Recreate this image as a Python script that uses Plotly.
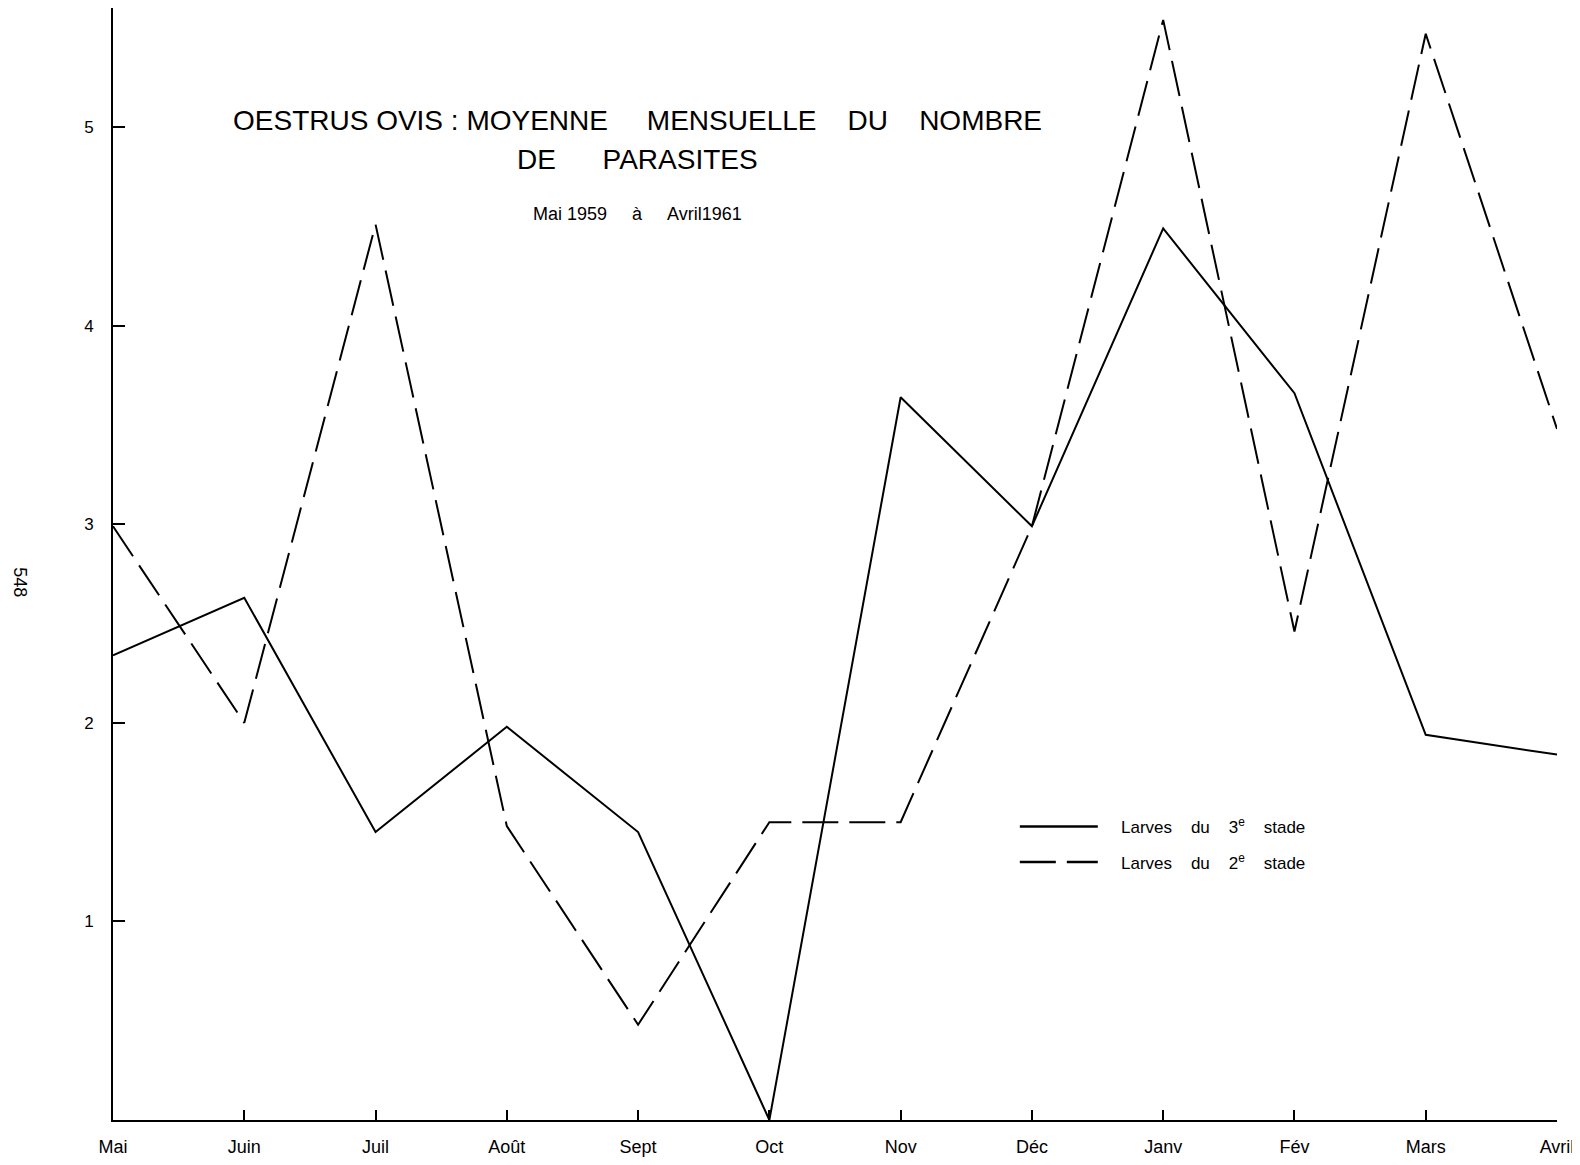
import plotly.graph_objects as go

months = ["Mai", "Juin", "Juil", "Août", "Sept", "Oct", "Nov", "Déc", "Janv", "Fév", "Mars", "Avril"]
stade3 = [2.34, 2.63, 1.45, 1.98, 1.45, 0.0, 3.64, 2.99, 4.49, 3.66, 1.94, 1.84]
stade2 = [2.99, 2.00, 4.51, 1.48, 0.48, 1.50, 1.50, 2.99, 5.54, 2.46, 5.47, 3.48]
yticks = [1, 2, 3, 4, 5]
legend_labels = ["Larves&nbsp;&nbsp;&nbsp;&nbsp;du&nbsp;&nbsp;&nbsp;&nbsp;3<sup>e</sup>&nbsp;&nbsp;&nbsp;&nbsp;stade",
                 "Larves&nbsp;&nbsp;&nbsp;&nbsp;du&nbsp;&nbsp;&nbsp;&nbsp;2<sup>e</sup>&nbsp;&nbsp;&nbsp;&nbsp;stade"]

FONT = "Liberation Sans, Arial, sans-serif"
DASH = "36px,11px"
xs = list(range(len(months)))

fig = go.Figure()
fig.add_trace(go.Scatter(x=xs, y=stade3, mode="lines",
                         line=dict(color="black", width=2), showlegend=False))
fig.add_trace(go.Scatter(x=xs, y=stade2, mode="lines",
                         line=dict(color="black", width=2, dash=DASH), showlegend=False))

fig.update_layout(
    width=1580, height=1165,
    paper_bgcolor="white", plot_bgcolor="white",
    margin=dict(l=105, r=31, t=0, b=53),
    font=dict(family=FONT, color="black", size=17),
    showlegend=False,
    xaxis=dict(range=[0, 11], tickmode="array", tickvals=xs, ticktext=months,
               showgrid=False, zeroline=False, showline=True, linecolor="black",
               linewidth=2, ticks="inside", ticklen=10, tickwidth=2, tickcolor="black",
               ticklabelstandoff=9, tickfont=dict(size=18, family=FONT)),
    yaxis=dict(range=[0, 5.6], tickmode="array", tickvals=yticks,
               ticktext=[str(v) for v in yticks],
               showgrid=False, zeroline=False, showline=True, linecolor="black",
               linewidth=2, ticks="inside", ticklen=12, tickwidth=2, tickcolor="black",
               ticklabelstandoff=14, tickfont=dict(size=17, family=FONT)),
)

# legend (drawn manually to show long dash samples)
for i, (lab, dash) in enumerate(zip(legend_labels, ["solid", DASH])):
    yy = 0.264 - i * 0.032
    fig.add_shape(type="line", xref="paper", yref="paper", x0=0.628, x1=0.682, y0=yy, y1=yy,
                  line=dict(color="black", width=2.5, dash=dash))
    fig.add_annotation(text=lab, xref="paper", yref="paper", x=0.697, y=yy,
                       xanchor="left", yanchor="middle", showarrow=False,
                       font=dict(size=17, family=FONT))

fig.add_annotation(text="OESTRUS OVIS : MOYENNE&nbsp;&nbsp;&nbsp;&nbsp;&nbsp;MENSUELLE&nbsp;&nbsp;&nbsp;&nbsp;DU&nbsp;&nbsp;&nbsp;&nbsp;NOMBRE",
                   xref="paper", yref="paper", x=0.363, y=0.899, xanchor="center", yanchor="middle",
                   showarrow=False, font=dict(size=28, family=FONT))
fig.add_annotation(text="DE&nbsp;&nbsp;&nbsp;&nbsp;&nbsp;&nbsp;PARASITES",
                   xref="paper", yref="paper", x=0.363, y=0.864, xanchor="center", yanchor="middle",
                   showarrow=False, font=dict(size=28, family=FONT))
fig.add_annotation(text="Mai 1959&nbsp;&nbsp;&nbsp;&nbsp;&nbsp;à&nbsp;&nbsp;&nbsp;&nbsp;&nbsp;Avril1961",
                   xref="paper", yref="paper", x=0.363, y=0.815, xanchor="center", yanchor="middle",
                   showarrow=False, font=dict(size=18, family=FONT))
fig.add_annotation(text="548", textangle=90,
                   xref="paper", yref="paper", x=-0.064, y=0.484, xanchor="center", yanchor="middle",
                   showarrow=False, font=dict(size=18, family=FONT))

fig.write_html("out.html")
